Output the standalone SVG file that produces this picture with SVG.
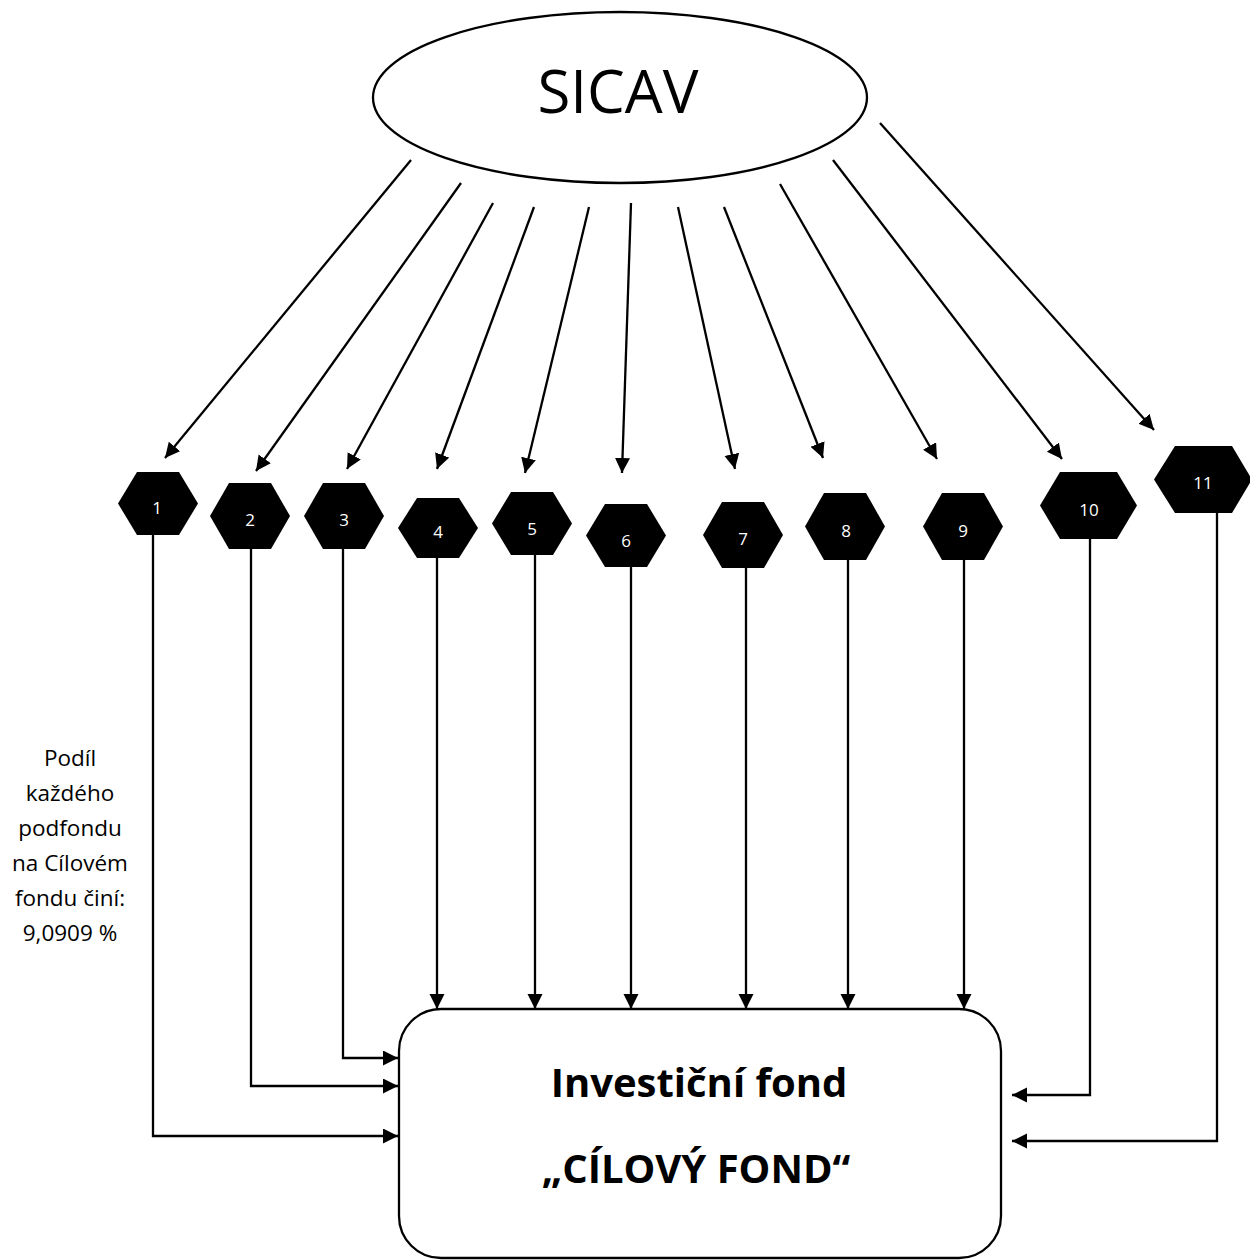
<svg xmlns="http://www.w3.org/2000/svg" width="1250" height="1260" viewBox="0 0 1250 1260">
<style>
.ln{fill:none;stroke:#000;stroke-width:2.3;marker-end:url(#ah)}
.hex{fill:#000}
.hl{fill:#fff;font-family:"Open Sans","Liberation Sans",sans-serif;font-size:17px;text-anchor:middle}
.side{font-family:"Open Sans","Liberation Sans",sans-serif;font-size:22.5px;text-anchor:middle;fill:#000}
.bt{font-family:"Open Sans","Liberation Sans",sans-serif;font-weight:bold;font-size:40px;text-anchor:middle;fill:#000}
</style>
<defs>
<marker id="ah" markerUnits="userSpaceOnUse" markerWidth="16" markerHeight="16" refX="15" refY="7.5" orient="auto">
<path d="M0,0 L15,7.5 L0,15 z" fill="#000"/>
</marker>
</defs>
<rect width="1250" height="1260" fill="#fff"/>
<g id="sicav">
<ellipse cx="620" cy="97.5" rx="247" ry="85.5" fill="#fff" stroke="#000" stroke-width="2.3"/>
<text x="618" y="113" font-family="'Open Sans','Liberation Sans',sans-serif" font-size="60" text-anchor="middle">SICAV</text>
</g>
<g id="connectors">
<path class="ln" d="M411,160 L165,458"/>
<path class="ln" d="M461,183 L256,471"/>
<path class="ln" d="M493,203 L347,469"/>
<path class="ln" d="M534,207 L437,469"/>
<path class="ln" d="M589,207 L525,473"/>
<path class="ln" d="M631,203 L622,473"/>
<path class="ln" d="M678,207 L735,469"/>
<path class="ln" d="M724,207 L823,458"/>
<path class="ln" d="M780,184 L937,459"/>
<path class="ln" d="M833,160 L1062,459"/>
<path class="ln" d="M880,123 L1154,430"/>
<path class="ln" d="M153,535 V1136 H398"/>
<path class="ln" d="M251,549 V1086 H398"/>
<path class="ln" d="M343,549 V1058 H398"/>
<path class="ln" d="M437,558 V1009"/>
<path class="ln" d="M535,555 V1009"/>
<path class="ln" d="M631,567 V1009"/>
<path class="ln" d="M746,568 V1009"/>
<path class="ln" d="M848,560 V1009"/>
<path class="ln" d="M964,560 V1009"/>
<path class="ln" d="M1090,539 V1095 H1012"/>
<path class="ln" d="M1217,513 V1141 H1012"/>
</g>
<g id="h1"><polygon class="hex" points="118,503.5 137,472 179,472 198,503.5 179,535 137,535"/><text class="hl" x="157" y="514">1</text></g>
<g id="h2"><polygon class="hex" points="210,516 229,483 271,483 290,516 271,549 229,549"/><text class="hl" x="250" y="526">2</text></g>
<g id="h3"><polygon class="hex" points="304,516 323,483 365,483 384,516 365,549 323,549"/><text class="hl" x="344" y="526">3</text></g>
<g id="h4"><polygon class="hex" points="398,528 417,498 459,498 478,528 459,558 417,558"/><text class="hl" x="438" y="538">4</text></g>
<g id="h5"><polygon class="hex" points="492,523.5 511,492 553,492 572,523.5 553,555 511,555"/><text class="hl" x="532" y="535">5</text></g>
<g id="h6"><polygon class="hex" points="586,535.5 605,504 647,504 666,535.5 647,567 605,567"/><text class="hl" x="626" y="547">6</text></g>
<g id="h7"><polygon class="hex" points="703,535 722,502 764,502 783,535 764,568 722,568"/><text class="hl" x="743" y="545">7</text></g>
<g id="h8"><polygon class="hex" points="805,526.5 824,493 866,493 885,526.5 866,560 824,560"/><text class="hl" x="846" y="537">8</text></g>
<g id="h9"><polygon class="hex" points="923,526.5 942,493 984,493 1003,526.5 984,560 942,560"/><text class="hl" x="963" y="537">9</text></g>
<g id="h10"><polygon class="hex" points="1040,505.5 1060,472 1117,472 1137,505.5 1117,539 1060,539"/><text class="hl" x="1089" y="516">10</text></g>
<g id="h11"><polygon class="hex" points="1154,479.5 1175,446 1232,446 1252,479.5 1232,513 1175,513"/><text class="hl" x="1203" y="489">11</text></g>
<g id="target">
<rect x="399" y="1009" width="602" height="249" rx="42" ry="42" fill="#fff" stroke="#000" stroke-width="2.3"/>
<text class="bt" x="699" y="1097">Investiční fond</text>
<text class="bt" x="696" y="1183">„CÍLOVÝ FOND“</text>
</g>
<g id="note">
<text class="side" x="70" y="766">Podíl</text>
<text class="side" x="70" y="801">každého</text>
<text class="side" x="70" y="836">podfondu</text>
<text class="side" x="70" y="871">na Cílovém</text>
<text class="side" x="70" y="906">fondu činí:</text>
<text class="side" x="70" y="941">9,0909 %</text>
</g>
</svg>
